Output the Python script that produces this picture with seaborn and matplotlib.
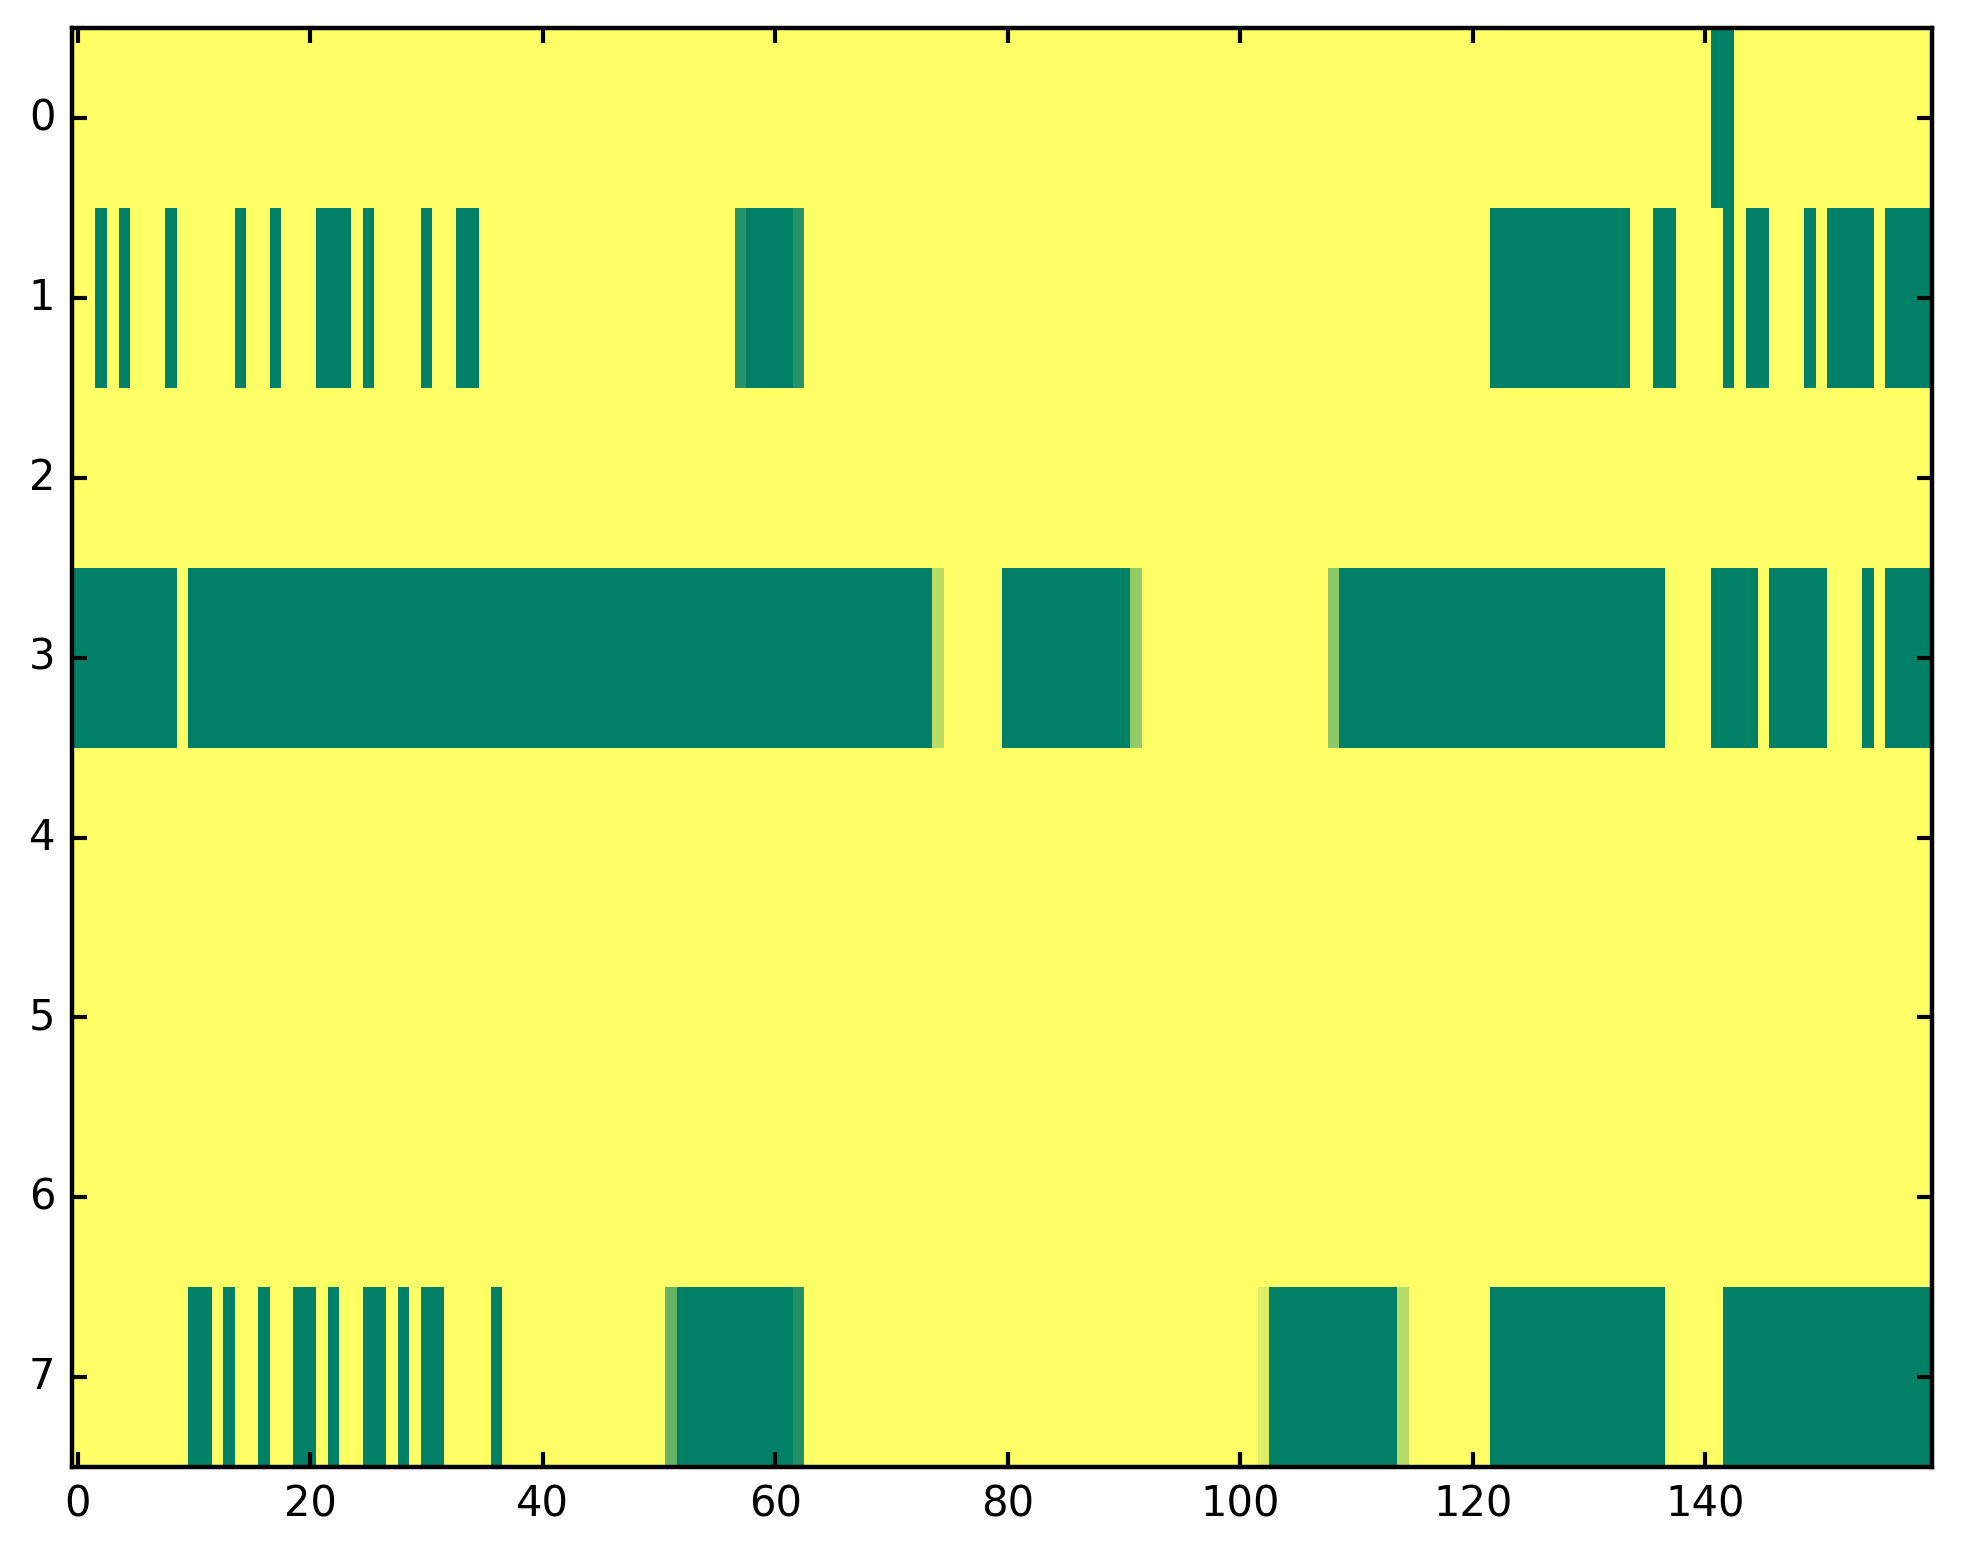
import numpy as np
import matplotlib
matplotlib.use("Agg")
import matplotlib.pyplot as plt
import seaborn as sns

# ----------------------------
# Data: 8 rows x 160 columns, spans of (first col, last col, value)
# rows not listed are all 0
# ----------------------------
n_rows, n_cols = 8, 160

row0_spans = [(141, 142, 1.0)]
row1_spans = [(2, 2, 1.0), (4, 4, 1.0), (8, 8, 1.0), (14, 14, 1.0), (17, 17, 1.0),
              (21, 23, 1.0), (25, 25, 1.0), (30, 30, 1.0), (33, 34, 1.0),
              (57, 57, 0.84), (58, 61, 1.0), (62, 62, 0.84),
              (122, 133, 1.0), (136, 137, 1.0), (142, 142, 1.0), (144, 145, 1.0),
              (149, 149, 1.0), (151, 154, 1.0), (156, 159, 1.0)]
row3_spans = [(0, 8, 1.0), (10, 73, 1.0), (74, 74, 0.28), (80, 90, 1.0), (91, 91, 0.42),
              (108, 108, 0.44), (109, 136, 1.0), (141, 144, 1.0), (146, 150, 1.0),
              (154, 154, 1.0), (156, 159, 1.0)]
row7_spans = [(10, 11, 1.0), (13, 13, 1.0), (16, 16, 1.0), (19, 20, 1.0), (22, 22, 1.0),
              (25, 26, 1.0), (28, 28, 1.0), (30, 31, 1.0), (36, 36, 1.0),
              (51, 51, 0.6), (52, 61, 1.0), (62, 62, 0.87),
              (102, 102, 0.13), (103, 113, 1.0), (114, 114, 0.28),
              (122, 136, 1.0), (142, 159, 1.0)]

x_ticks = [0, 20, 40, 60, 80, 100, 120, 140]
y_ticks = [0, 1, 2, 3, 4, 5, 6, 7]

grid = np.zeros((n_rows, n_cols))
for r, spans in [(0, row0_spans), (1, row1_spans), (3, row3_spans), (7, row7_spans)]:
    for a, b, v in spans:
        grid[r, a:b + 1] = v

# ----------------------------
# Plot
# ----------------------------
fig = plt.figure(figsize=(9.815, 7.82), dpi=200)
ax = fig.add_axes([0.0367, 0.062, 0.9475, 0.920])

sns.heatmap(grid, cmap="summer_r", vmin=0, vmax=1, cbar=False, ax=ax)

ax.set_xticks([t + 0.5 for t in x_ticks])
ax.set_xticklabels([str(t) for t in x_ticks], rotation=0)
ax.set_yticks([t + 0.5 for t in y_ticks])
ax.set_yticklabels([str(t) for t in y_ticks], rotation=0)

for s in ax.spines.values():
    s.set_visible(True)
    s.set_linewidth(1.6)
    s.set_color("black")

ax.tick_params(direction="in", length=5.5, width=1.5, top=True, right=True,
               labelsize=15, pad=6)

fig.savefig("out.png", dpi=200)
plt.close(fig)
